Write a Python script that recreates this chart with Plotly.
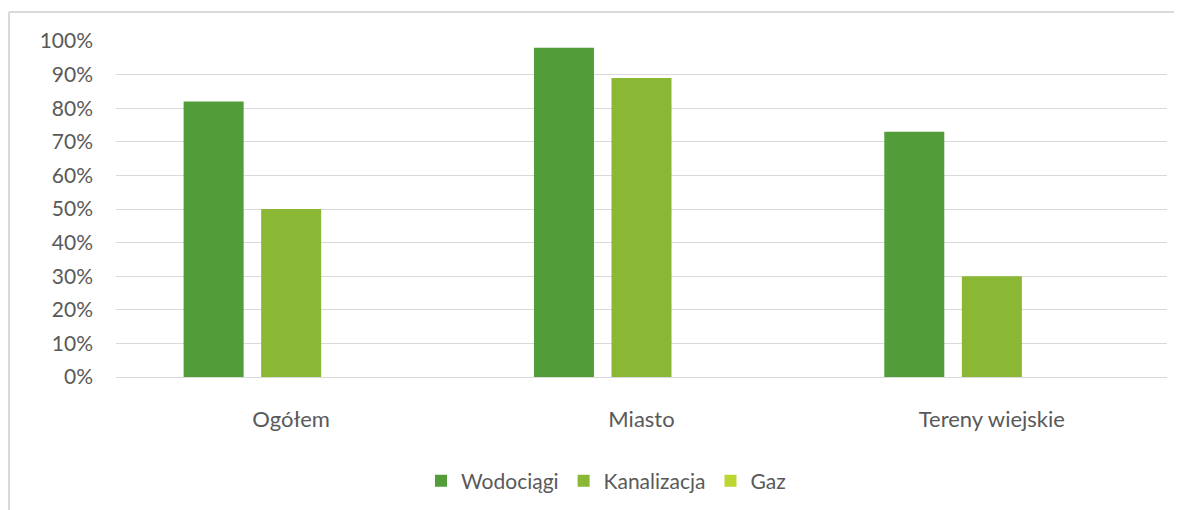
import plotly.graph_objects as go

categories = ["Ogółem", "Miasto", "Tereny wiejskie"]
wodociagi = [0.82, 0.98, 0.73]
kanalizacja = [0.50, 0.89, 0.30]
gaz = [0, 0, 0]
series_names = ["Wodociągi", "Kanalizacja", "Gaz"]
colors = ["#529d39", "#8ab734", "#bdd531"]
tick_vals = [0, 0.1, 0.2, 0.3, 0.4, 0.5, 0.6, 0.7, 0.8, 0.9, 1.0]
tick_text = ["0%", "10%", "20%", "30%", "40%", "50%", "60%", "70%", "80%", "90%", "100%"]

# page body has an 8px margin, so the figure is offset by (8, 8)
OFF = 8
W, H = 1182 - OFF, 510 - OFF
L, R, T, B = 116 - OFF, 15, 41 - OFF, 133
pw, ph = W - L - R, H - T - B

fig = go.Figure()
for name, vals, col in zip(series_names, [wodociagi, kanalizacja, gaz], colors):
    fig.add_trace(go.Bar(x=categories, y=vals, name=name,
                         marker=dict(color=col, line=dict(width=0))))

def px_x(p):
    return (p - OFF - L) / pw

def px_y(p):
    return (H - B - (p - OFF)) / ph

fig.update_layout(
    width=W, height=H,
    margin=dict(l=L, r=R, t=T, b=B, autoexpand=False),
    paper_bgcolor="white", plot_bgcolor="white",
    barmode="group", bargap=0.336, bargroupgap=0.226,
    font=dict(family="Lato, Open Sans, sans-serif", color="#595959", size=21),
    showlegend=True,
    legend=dict(orientation="h", x=px_x(606), xanchor="center",
                y=px_y(481), yanchor="middle",
                font=dict(size=21, color="#595959"), itemwidth=30,
                traceorder="normal"),
    yaxis=dict(range=[0, 1.0], tickvals=tick_vals, ticktext=tick_text,
               automargin=False,
               showgrid=True, gridcolor="#d9d9d9", gridwidth=1,
               zeroline=True, zerolinecolor="#d9d9d9", zerolinewidth=1,
               showline=False, ticks="", ticklabelstandoff=22,
               tickfont=dict(size=21, color="#595959")),
    xaxis=dict(showgrid=False, showline=False, ticks="", automargin=False,
               ticklabelstandoff=27,
               tickfont=dict(size=22, color="#595959")),
    shapes=[
        dict(type="line", xref="paper", yref="paper",
             x0=px_x(9), x1=px_x(1200), y0=px_y(12), y1=px_y(12),
             line=dict(color="#d9d9d9", width=2)),
        dict(type="line", xref="paper", yref="paper",
             x0=px_x(9), x1=px_x(9), y0=px_y(12), y1=px_y(520),
             line=dict(color="#d9d9d9", width=2)),
    ],
)

fig.write_html("out.html")
